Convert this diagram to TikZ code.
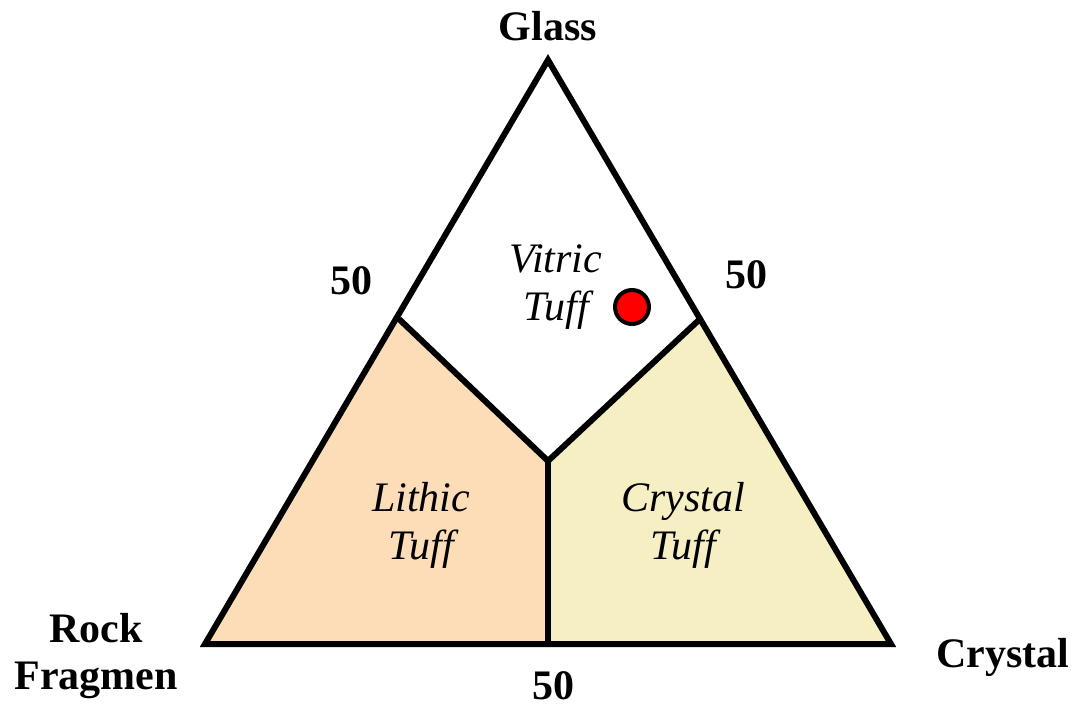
\documentclass[tikz,border=0pt]{standalone}
\usepackage{fontspec}
\setmainfont{Liberation Serif}
\definecolor{lithic}{RGB}{252,221,183}
\definecolor{crystalc}{RGB}{247,239,196}
\begin{document}
\begin{tikzpicture}[x=1pt,y=-1pt,
  edge/.style={line width=6pt,line join=miter},
  corner/.style={font=\fontsize{42}{47}\selectfont\bfseries,align=center},
  tick/.style={font=\fontsize{42}{47}\selectfont\bfseries},
  field/.style={font=\fontsize{42}{48}\selectfont\itshape,align=center}]
\useasboundingbox (0,0) rectangle (1080,709);
\coordinate (A) at (548,60);
\coordinate (L) at (205,644);
\coordinate (R) at (891,644);
\coordinate (ML) at (399,319);
\coordinate (MR) at (700,319);
\coordinate (MB) at (548,644);
\coordinate (C) at (548,461);
\fill[lithic] (L) -- (ML) -- (C) -- (MB) -- cycle;
\fill[crystalc] (R) -- (MR) -- (C) -- (MB) -- cycle;
\draw[edge] (A) -- (L) -- (R) -- cycle;
\draw[edge] (ML) -- (C) -- (MR);
\draw[edge] (C) -- (MB);
\node[corner] (glass) at (548,26) {Glass};
\node[corner] (rock) at (96,656) {Rock\\Fragmen};
\node[corner] (crystal) at (1003,657) {Crystal};
\node[tick] (t1) at (351,281) {50};
\node[tick] (t2) at (746,275) {50};
\node[tick] (t3) at (553,686) {50};
\node[field] (vitric) at (556,287) {Vitric\\Tuff};
\node[field] (lith) at (421,525) {Lithic\\Tuff};
\node[field] (cryst) at (683,525) {Crystal\\Tuff};
\node[circle,draw=black,line width=4pt,fill=red,minimum size=34pt,inner sep=0pt] (dot) at (632,307) {};
\end{tikzpicture}
\end{document}
